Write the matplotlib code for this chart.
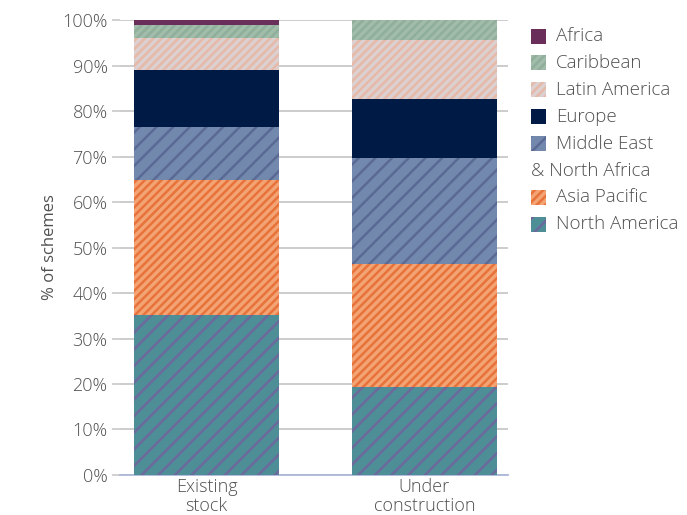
import matplotlib.pyplot as plt
from matplotlib.patches import Rectangle

plt.rcParams['font.family'] = ['Open Sans', 'DejaVu Sans']
plt.rcParams['font.weight'] = 'light'
plt.rcParams['hatch.linewidth'] = 1.8

categories = ['Existing\nstock', 'Under\nconstruction']
regions = ['North America', 'Asia Pacific', 'Middle East', 'Europe',
           'Latin America', 'Caribbean', 'Africa']
north_america = [35.2, 19.3]
asia_pacific = [29.6, 27.1]
middle_east = [11.7, 23.3]
europe = [12.5, 12.9]
latin_america = [7.0, 13.0]
caribbean = [2.9, 4.4]
africa = [1.1, 0.0]
series = [north_america, asia_pacific, middle_east, europe,
          latin_america, caribbean, africa]

face = ['#4d8e97', '#f3a374', '#7289ad', '#001a46', '#dcd0d0', '#a2bcaa', '#6a2e5a']
hatchc = ['#6c6a9c', '#e8733a', '#5a6a94', '#001a46', '#e6b9a8', '#8fae9c', '#6a2e5a']
hatches = ['//', '////', '//', '', '////', '////', '']

fig = plt.figure(figsize=(6.87, 5.15), dpi=100)
ax = fig.add_axes([0.1747, 0.0777, 0.5643, 0.8833])

x = [0, 1]
bottom = [0.0, 0.0]
for vals, fc, hc, h in zip(series, face, hatchc, hatches):
    ax.bar(x, vals, bottom=bottom, width=0.665, color=fc, edgecolor=hc,
           hatch=h, linewidth=0, zorder=3)
    bottom = [b + v for b, v in zip(bottom, vals)]

txt = '#505050'
ax.set_xlim(-0.397, 1.383)
ax.set_ylim(0, 100)
ax.set_yticks(range(0, 101, 10))
ax.set_yticklabels([f'{v}%' for v in range(0, 101, 10)], fontsize=13, color=txt)
ax.set_xticks(x)
ax.set_xticklabels(categories, fontsize=13, color=txt, linespacing=1.1)
ax.tick_params(axis='y', length=6, color='#c8c8c8', width=1.2, pad=3)
ax.tick_params(axis='x', length=0, pad=2)
ax.grid(axis='y', color='#c8c8c8', linewidth=1.3, zorder=0)
for s in ['top', 'right', 'left']:
    ax.spines[s].set_visible(False)
ax.spines['bottom'].set_color('#aab8d8')
ax.spines['bottom'].set_linewidth(1.3)
ax.set_ylabel('% of schemes', fontsize=12, color=txt, labelpad=3)

# legend drawn by hand to reproduce the wrapped "Middle East / & North Africa" entry
rows = [('Africa', 6), ('Caribbean', 5), ('Latin America', 4), ('Europe', 3),
        ('Middle East', 2), ('& North Africa', None), ('Asia Pacific', 1),
        ('North America', 0)]
W, H = 687, 515
y0 = 36
for i, (lab, k) in enumerate(rows):
    yc = y0 + i * 26.9
    if k is not None:
        fig.patches.append(Rectangle(((531) / W, 1 - (yc + 7.5) / H), 15 / W, 15 / H,
                                     transform=fig.transFigure, facecolor=face[k],
                                     edgecolor=hatchc[k], hatch=hatches[k],
                                     linewidth=0))
        tx = 556
    else:
        tx = 531
    fig.text(tx / W, 1 - yc / H, lab, fontsize=13.5, color=txt,
             va='center', ha='left')

fig.savefig('out.png', dpi=100)
